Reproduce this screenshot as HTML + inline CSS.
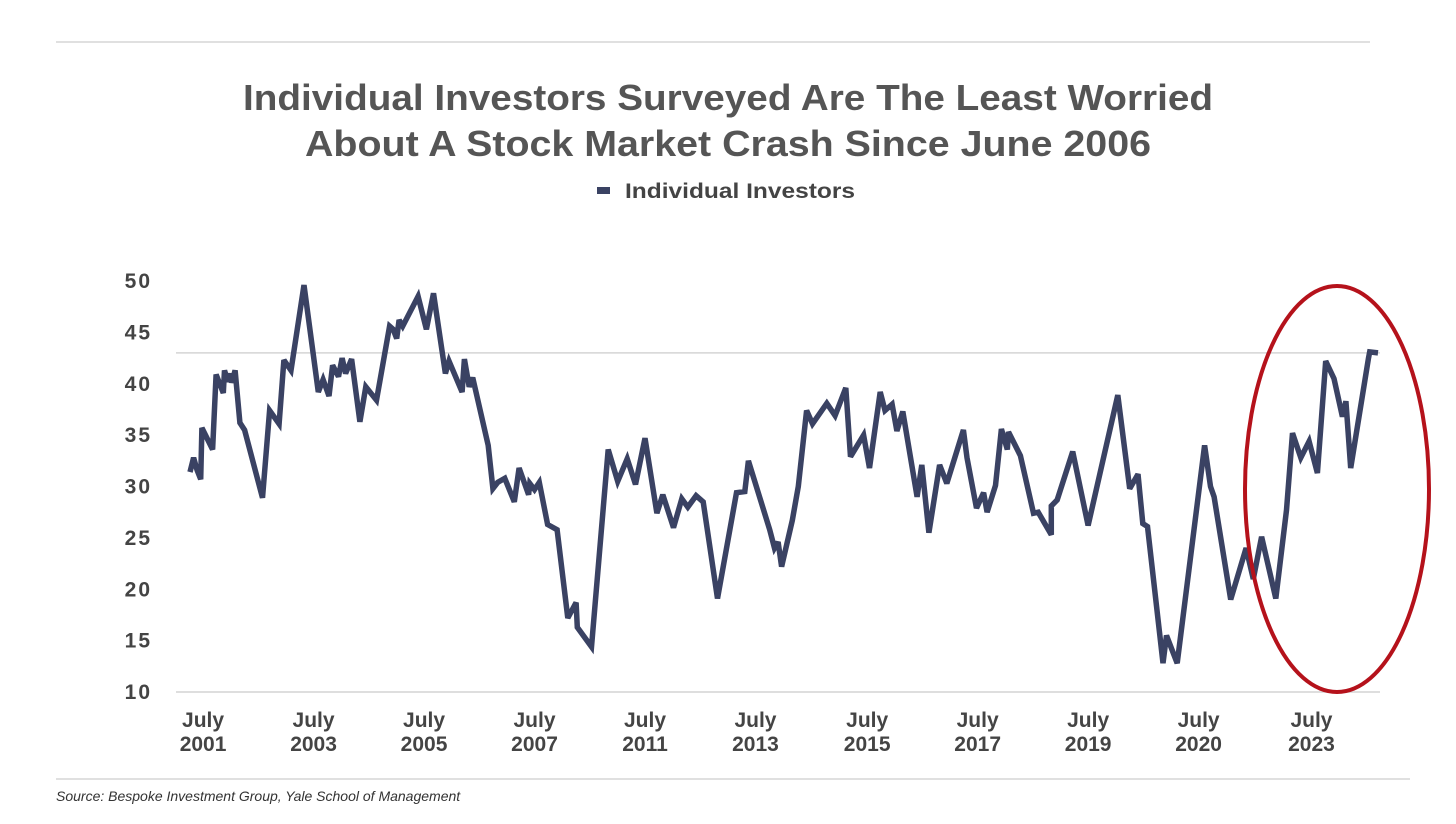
<!DOCTYPE html>
<html><head><meta charset="utf-8"><style>
body{margin:0;background:#fff;width:1456px;height:819px;overflow:hidden;font-family:"Liberation Sans",sans-serif}
</style></head><body>
<svg width="1456" height="819" xmlns="http://www.w3.org/2000/svg">
<line x1="56" y1="42" x2="1370" y2="42" stroke="#d6d6d6" stroke-width="1.5"/>
<text x="728" y="110" text-anchor="middle" font-size="36" font-weight="bold" fill="#555" textLength="970" lengthAdjust="spacingAndGlyphs">Individual Investors Surveyed Are The Least Worried</text>
<text x="728" y="156" text-anchor="middle" font-size="36" font-weight="bold" fill="#555" textLength="846" lengthAdjust="spacingAndGlyphs">About A Stock Market Crash Since June 2006</text>
<rect x="597" y="187" width="13" height="7" fill="#3a4263"/>
<text x="625" y="198" font-size="21" font-weight="bold" fill="#444" textLength="230" lengthAdjust="spacingAndGlyphs">Individual Investors</text>
<g id="yaxis"></g>
<g id="xaxis"></g>
<g id="plot"></g>
<ellipse cx="1337" cy="489" rx="92" ry="203" fill="none" stroke="#b5121b" stroke-width="4"/>
<line x1="56" y1="779" x2="1410" y2="779" stroke="#d6d6d6" stroke-width="1.5"/>
<text x="56" y="801" font-size="14" font-style="italic" fill="#333">Source: Bespoke Investment Group, Yale School of Management</text>
</svg>
<script>
const yTicks=[10,15,20,25,30,35,40,45,50];
const xLabelYears=["2001","2003","2005","2007","2011","2013","2015","2017","2019","2020","2023"];
const xLabelPos=[1.1,10.4,19.7,29.0,38.3,47.6,57.0,66.3,75.6,84.9,94.4];
const gridValue=43;
const periods=[0,0.3,0.6,0.9,1.0,1.9,2.2,2.8,2.9,3.2,3.4,3.5,3.8,4.2,4.6,6.1,6.7,7.5,7.9,8.5,9.6,10.8,11.2,11.7,12.0,12.5,12.8,13.1,13.6,14.3,14.8,15.7,16.8,17.1,17.4,17.6,17.9,19.2,19.9,20.5,21.5,21.8,22.9,23.1,23.5,23.8,25.1,25.5,25.9,26.5,27.3,27.7,28.5,28.6,29.0,29.4,30.1,30.9,31.8,32.5,32.6,33.8,35.2,36.0,36.8,37.5,38.3,39.3,39.8,40.7,41.4,41.9,42.6,43.2,44.4,46.0,46.7,47.0,48.8,49.2,49.5,49.8,50.7,51.2,51.9,52.4,53.6,54.3,55.2,55.6,56.7,57.2,58.1,58.5,59.1,59.5,60.0,61.2,61.6,62.2,63.1,63.7,65.1,65.4,66.2,66.8,67.1,67.8,68.3,68.8,68.9,69.9,71.0,71.4,72.5,72.5,73.0,74.3,75.6,78.1,79.1,79.8,80.2,80.6,81.9,82.2,83.1,85.4,85.9,86.2,87.6,88.9,89.5,90.2,91.4,92.3,92.8,93.5,94.2,94.9,95.6,96.3,97.0,97.3,97.7,99.2,99.3,100];
const values=[31.4,32.8,31.6,30.7,35.7,33.6,40.9,39.1,41.3,40.2,41.0,40.1,41.3,36.2,35.5,28.9,37.4,36.1,42.3,41.3,49.6,39.2,40.4,38.8,41.8,40.7,42.5,41.0,42.4,36.3,39.7,38.4,45.6,45.3,44.4,46.2,45.6,48.5,45.3,48.8,41.0,42.2,39.2,42.4,39.7,40.6,34.0,29.8,30.4,30.8,28.5,31.8,29.2,30.3,29.7,30.4,26.3,25.8,17.2,18.7,16.3,14.4,33.6,30.5,32.7,30.2,34.7,27.4,29.2,26.0,28.8,28.0,29.1,28.5,19.1,29.4,29.5,32.5,25.8,24.0,24.6,22.2,26.7,30.0,37.4,36.1,38.1,36.9,39.6,32.9,35.0,31.8,39.2,37.4,38.0,35.4,37.3,29.0,32.1,25.5,32.1,30.3,35.5,32.8,27.9,29.4,27.5,30.1,35.6,33.6,35.3,33.0,27.4,27.5,25.3,28.1,28.7,33.4,26.2,38.9,29.8,31.2,26.4,26.1,12.8,15.5,12.8,34.0,30.0,29.0,19.0,24.0,21.0,25.1,19.1,27.7,35.2,32.8,34.4,31.3,42.2,40.5,36.8,38.3,31.8,42.5,43.1,43.0];
const NS="http://www.w3.org/2000/svg";
const X0=190,X1=1378,Y0=692,Y1=281;
function xs(t){return X0+(X1-X0)*t/100;}
function ys(v){return Y0-(Y0-Y1)*(v-10)/40;}
const ya=document.getElementById('yaxis'),xa=document.getElementById('xaxis'),pl=document.getElementById('plot');
const g=document.createElementNS(NS,'line');
g.setAttribute('x1',176);g.setAttribute('x2',1380);g.setAttribute('y1',ys(gridValue));g.setAttribute('y2',ys(gridValue));
g.setAttribute('stroke','#d4d4d4');g.setAttribute('stroke-width','1.5');


ya.appendChild(g);
const b=document.createElementNS(NS,'line');
b.setAttribute('x1',176);b.setAttribute('x2',1380);b.setAttribute('y1',ys(10));b.setAttribute('y2',ys(10));
b.setAttribute('stroke','#d4d4d4');b.setAttribute('stroke-width','1.5');


ya.appendChild(b);
yTicks.forEach(v=>{
 const t=document.createElementNS(NS,'text');
 t.setAttribute('x',152);t.setAttribute('y',ys(v)+7);t.setAttribute('text-anchor','end');
 t.setAttribute('font-size','21');t.setAttribute('font-weight','bold');t.setAttribute('fill','#444');t.setAttribute('letter-spacing','2');
 t.textContent=v;
 
 
 ya.appendChild(t);
});
xLabelYears.forEach((yr,i)=>{
 const t=document.createElementNS(NS,'text');
 t.setAttribute('x',xs(xLabelPos[i]));t.setAttribute('text-anchor','middle');
 t.setAttribute('font-size','21');t.setAttribute('font-weight','bold');t.setAttribute('fill','#444');
 
 
 const a=document.createElementNS(NS,'tspan');a.setAttribute('x',xs(xLabelPos[i]));a.setAttribute('y',727);a.textContent='July';
 const c=document.createElementNS(NS,'tspan');c.setAttribute('x',xs(xLabelPos[i]));c.setAttribute('y',751);c.textContent=yr;
 t.appendChild(a);t.appendChild(c);xa.appendChild(t);
});
const p=document.createElementNS(NS,'polyline');
p.setAttribute('points',values.map((v,i)=>xs(periods[i]).toFixed(1)+','+ys(v).toFixed(1)).join(' '));
p.setAttribute('fill','none');p.setAttribute('stroke','#3a4263');p.setAttribute('stroke-width','5.5');p.setAttribute('stroke-linejoin','miter');p.setAttribute('stroke-miterlimit','3');


pl.appendChild(p);
</script>
</body></html>
